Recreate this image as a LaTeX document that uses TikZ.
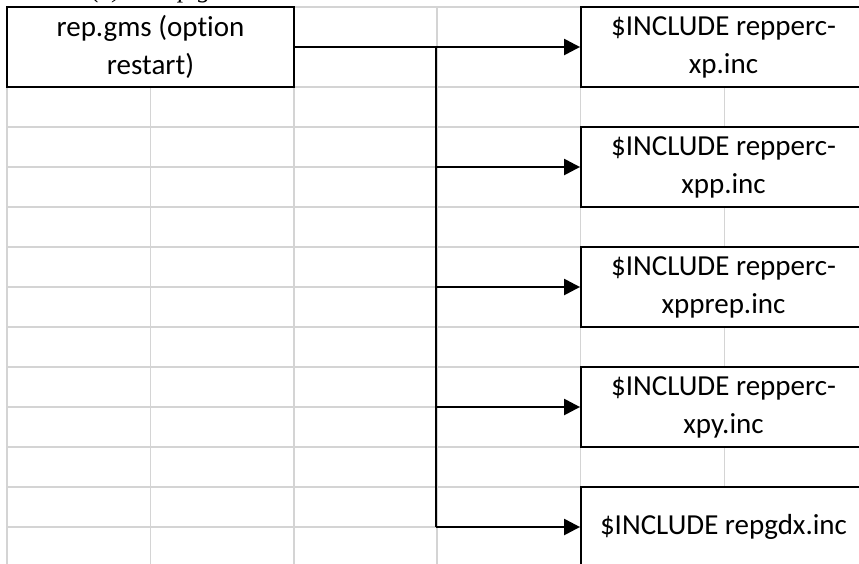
\documentclass[tikz,border=0pt]{standalone}
\usepackage{fontspec}
\setmainfont{Carlito}[Ligatures=NoCommon]
\newfontfamily\captfont{Liberation Serif}
\usetikzlibrary{arrows.meta}
\tikzset{
  gridline/.style={draw=black!17, line width=1.3pt},
  box/.style={draw=black, line width=2pt, fill=white, minimum height=80pt, inner sep=0pt, align=center,
    font=\fontsize{29}{38}\selectfont},
  srcbox/.style={box, minimum width=287pt},
  incbox/.style={box, minimum width=285pt},
  conn/.style={draw=black, line width=2.7pt, -{Triangle[length=16pt,width=16pt]}},
  trunk/.style={draw=black, line width=2.7pt}
}
\begin{document}
\begin{tikzpicture}[x=1pt,y=-1pt]
\useasboundingbox (0,0) rectangle (859,563);
% caption (cut off at top edge)
\node[anchor=base west, inner sep=0pt, font=\captfont\itshape\fontsize{26}{30}\selectfont] (capt) at (28,-3) {Table (a) — rep.gms};
% spreadsheet grid
\foreach \gx in {7,150.5,294,437,580.5,724.5} {
  \draw[gridline] (\gx,7) -- (\gx,570);
}
\foreach \gy in {7,47,...,527} {
  \draw[gridline] (7,\gy) -- (870,\gy);
}
% boxes
\node[srcbox] (src) at (150.5,47) {rep.gms (option\\restart)};
\node[incbox] (b1) at (723.5,47) {\$INCLUDE repperc-\\xp.inc};
\node[incbox] (b2) at (723.5,167) {\$INCLUDE repperc-\\xpp.inc};
\node[incbox] (b3) at (723.5,287) {\$INCLUDE repperc-\\xpprep.inc};
\node[incbox] (b4) at (723.5,407) {\$INCLUDE repperc-\\xpy.inc};
\node[incbox] (b5) at (723.5,527) {\$INCLUDE repgdx.inc};
% connectors
\coordinate (j) at (436,47);
\draw[conn] (src.east) -- (b1.west);
\draw[trunk] (j) -- (j |- b5.west);
\draw[conn] (j |- b2.west) -- (b2.west);
\draw[conn] (j |- b3.west) -- (b3.west);
\draw[conn] (j |- b4.west) -- (b4.west);
\draw[conn] (j |- b5.west) -- (b5.west);
\end{tikzpicture}
\end{document}
